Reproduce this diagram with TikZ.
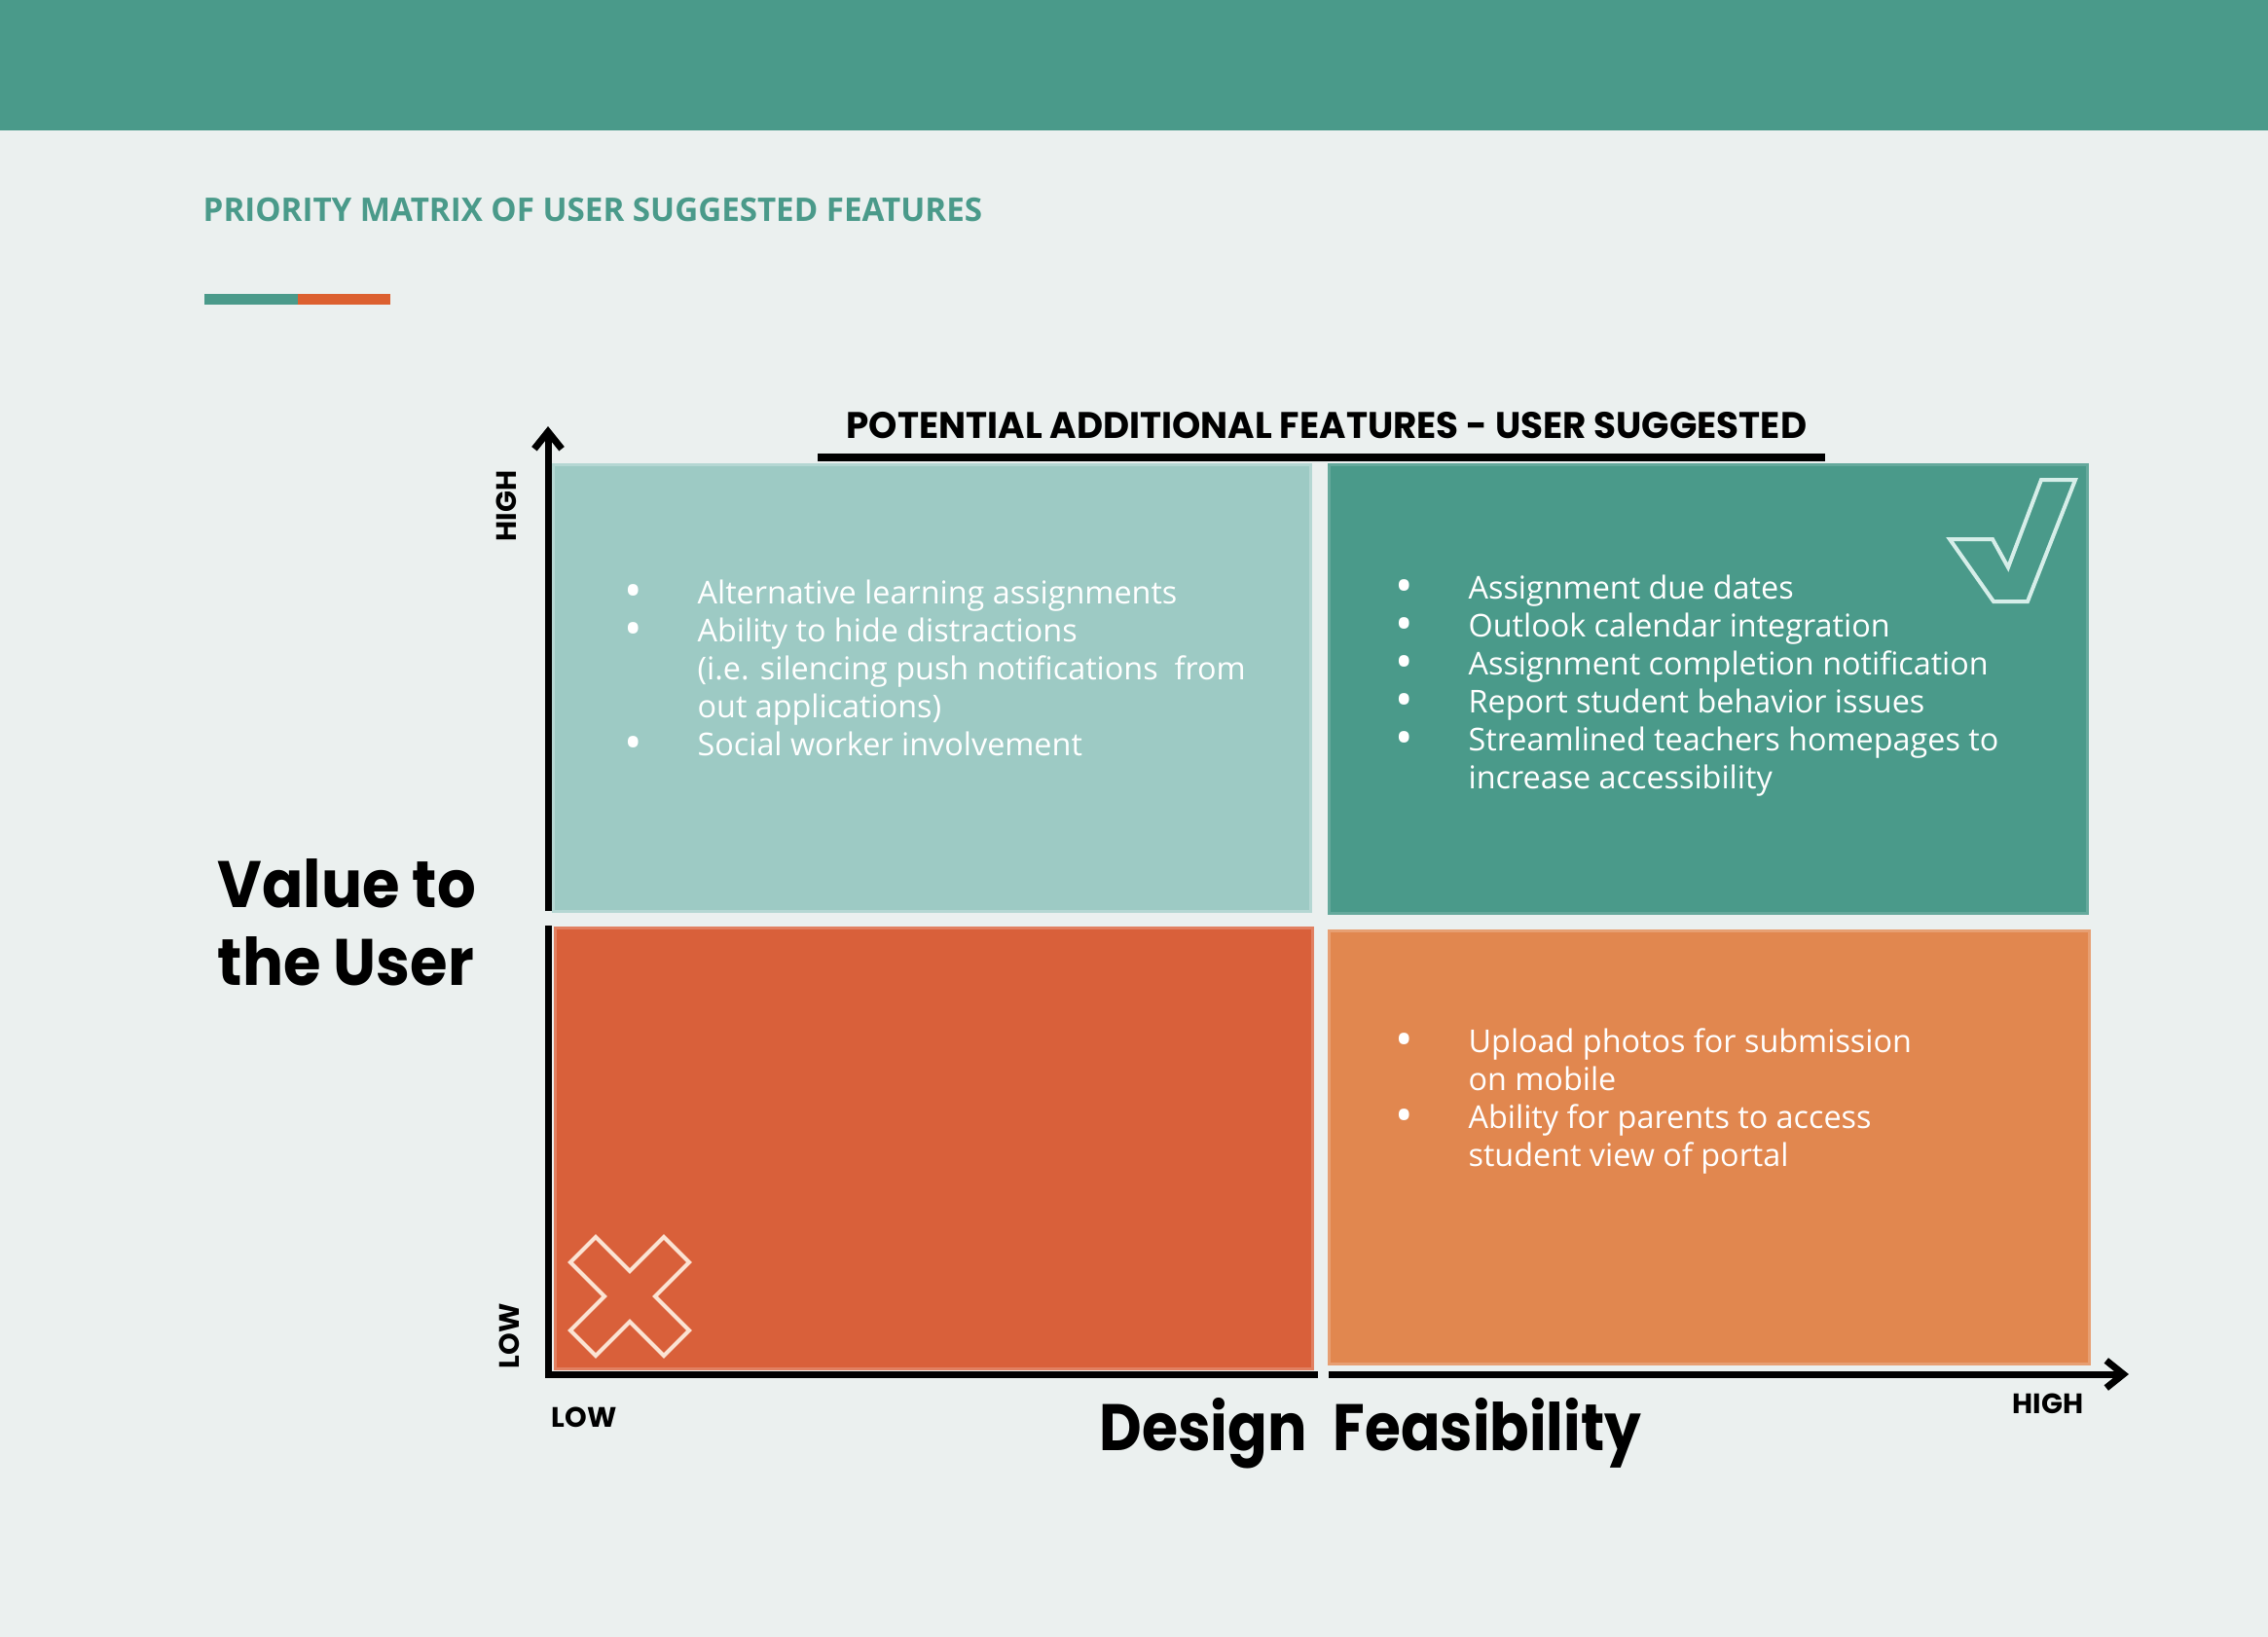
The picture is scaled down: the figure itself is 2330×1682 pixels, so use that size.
\documentclass[tikz,border=0pt]{standalone}
\usepackage{fontspec}
\setmainfont{Open Sans}
\newfontfamily\popfont{Poppins}
\usepackage{graphicx}
\usetikzlibrary{arrows.meta}
\definecolor{bgc}{HTML}{EBF0EF}
\definecolor{mteal}{HTML}{4A9A8A}
\definecolor{lteal}{HTML}{9DCAC4}
\definecolor{morange}{HTML}{D9603A}
\definecolor{lorange}{HTML}{E1874F}
\definecolor{barorange}{HTML}{DC6030}
\definecolor{checkc}{HTML}{D6EEE9}
\definecolor{crossc}{HTML}{FBE3D3}
\newcommand\pxl{0.2845pt}
\newcommand\bul{\makebox[21.3pt][l]{\raisebox{-1.3pt}[0pt][0pt]{\fontsize{14}{11}\selectfont •}}}
\begin{document}
\begin{tikzpicture}[x=0.01cm,y=-0.01cm,
  quad/.style={inner sep=0pt, outer sep=0pt, line width=3*\pxl},
  listtext/.style={inner sep=0pt, anchor=base west, text=white,
    font=\fontsize{9.2}{11.1}\selectfont},
  axis/.style={line width=7*\pxl, black},
  small/.style={inner sep=0pt, font=\popfont\bfseries\fontsize{8.2}{9}\selectfont},
  big/.style={inner sep=0pt, anchor=base west, font=\popfont\bfseries\fontsize{19.2}{22.8}\selectfont},
  outline/.style={line width=4*\pxl, line join=miter}]
\fill[bgc] (0,0) rectangle (2330,1682);
\useasboundingbox (0,0) rectangle (2330,1682);
% top band
\fill[mteal] (0,0) rectangle (2330,134);
% title
\node[inner sep=0pt, anchor=base west, text=mteal] (title) at (208,227)
  {\resizebox{227.6pt}{6.9pt}{\bfseries PRIORITY MATRIX OF USER SUGGESTED FEATURES}};
\fill[mteal] (210,302) rectangle (306,313);
\fill[barorange] (306,302) rectangle (401,313);
% header
\node[inner sep=0pt, anchor=base west] (header) at (869,450)
  {\resizebox{280.5pt}{7.7pt}{\popfont\bfseries POTENTIAL ADDITIONAL FEATURES - USER SUGGESTED}};
\coordinate (hl1) at (840,470);
\coordinate (hl2) at (1875,470);
\draw[line width=8*\pxl] (hl1) -- (hl2);
% quadrants
\node[quad, fill=lteal, draw=lteal!75!white, minimum width=777*\pxl, minimum height=458*\pxl] (tl) at (957.5,707) {};
\node[quad, fill=mteal, draw=mteal!85!white, minimum width=778*\pxl, minimum height=460*\pxl] (tr) at (1755,708) {};
\node[quad, fill=morange, draw=morange!80!white, minimum width=777*\pxl, minimum height=452*\pxl] (bl) at (959.5,1180) {};
\node[quad, fill=lorange, draw=lorange!80!white, minimum width=780*\pxl, minimum height=444*\pxl] (br) at (1756,1179) {};
% axes
\coordinate (ytop) at (563,438);
\coordinate (ymid1) at (563,936);
\coordinate (ymid2) at (563,954);
\coordinate (origin) at (563,1412);
\coordinate (xgap1) at (1350,1412);
\coordinate (xgap2) at (1365,1412);
\coordinate (xend) at (2187,1412);
\draw[axis, -{Straight Barb[length=5pt,width=8pt,line width=2pt]}] (ymid1) -- (ytop);
\draw[axis, line cap=rect] (ymid2) -- (origin) -- (xgap1);
\draw[axis, -{Straight Barb[length=5pt,width=8pt,line width=2pt]}] (xgap2) -- (xend);
% axis labels
\node[small, rotate=90] (yhigh) at (520,520) {HIGH};
\node[small, rotate=90] (ylow) at (523,1373) {LOW};
\node[small, anchor=base west] (xlow) at (566,1466) {LOW};
\node[small, anchor=base west] (xhigh) at (2067,1452) {HIGH};
\node[big] (vlabel) at (223,932) {\scalebox{0.925}[1]{\begin{tabular}[t]{@{}l@{}}Value to\\the User\end{tabular}}};
\node[big] (dlabel) at (1129,1490) {\scalebox{0.89}[1]{Design}};
\node[big] (flabel) at (1369,1490) {\scalebox{0.885}[1]{Feasibility}};
% lists
\node[listtext] (tllist) at (641,620) {\begin{tabular}[t]{@{}l@{}l@{}}
\bul & Alternative learning assignments\\
\bul & Ability to hide distractions\\
 & (i.e. silencing push notifications\ \ from\\
 & out applications)\\
\bul & Social worker involvement
\end{tabular}};
\node[listtext] (trlist) at (1433,615) {\begin{tabular}[t]{@{}l@{}l@{}}
\bul & Assignment due dates\\
\bul & Outlook calendar integration\\
\bul & Assignment completion notification\\
\bul & Report student behavior issues\\
\bul & Streamlined teachers homepages to\\
 & increase accessibility
\end{tabular}};
\node[listtext] (brlist) at (1433,1081) {\begin{tabular}[t]{@{}l@{}l@{}}
\bul & Upload photos for submission\\
 & on mobile\\
\bul & Ability for parents to access\\
 & student view of portal
\end{tabular}};
% check mark
\draw[outline, checkc] (2003,554) -- (2047,554) -- (2063,583) -- (2097,493) -- (2132,493) -- (2083,618) -- (2048,618) -- cycle;
% cross mark
\begin{scope}[shift={(647,1332)}]
\draw[outline, crossc] (0,-26) -- (35,-61) -- (61,-35) -- (26,0) -- (61,35) -- (35,61) -- (0,26) -- (-35,61) -- (-61,35) -- (-26,0) -- (-61,-35) -- (-35,-61) -- cycle;
\end{scope}
\end{tikzpicture}
\end{document}
